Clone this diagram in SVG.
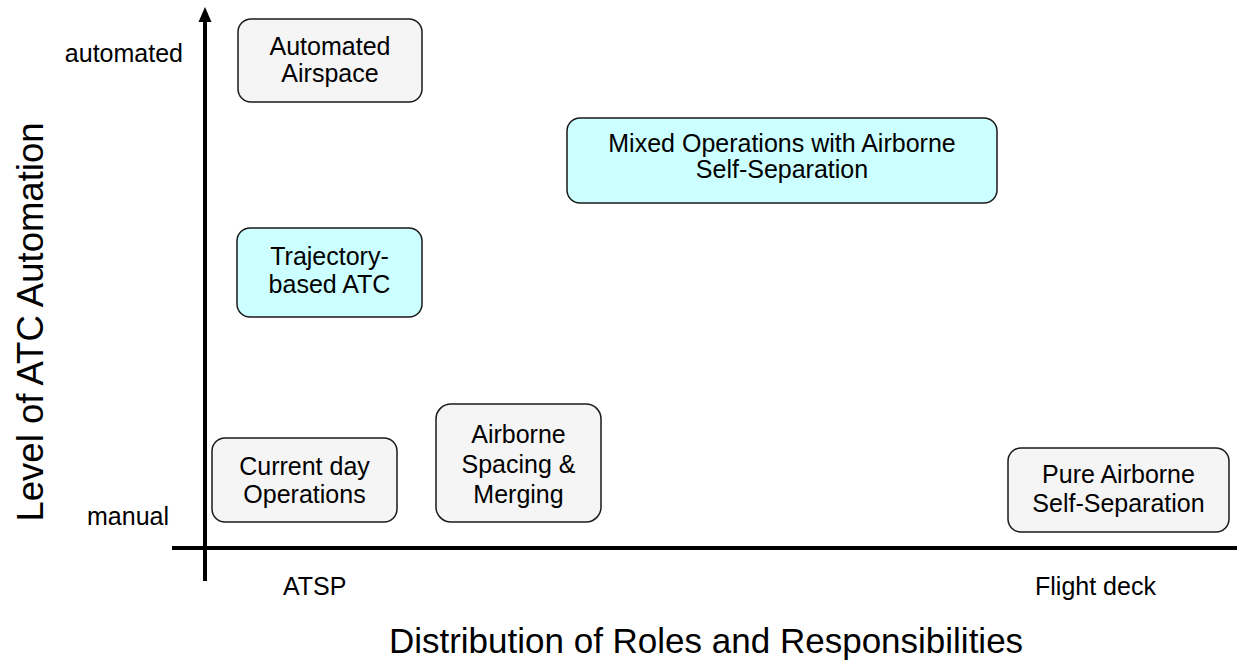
<svg xmlns="http://www.w3.org/2000/svg" width="1237" height="664" viewBox="0 0 1237 664">
<style>
text { font-family: "Liberation Sans", Arial, sans-serif; fill: #000; }
.lbl { font-size: 25px; text-anchor: middle; }
.ax { font-size: 25px; }
.title { font-size: 35px; }
.vtitle { font-size: 36.5px; }
.box { stroke: #1a1a1a; stroke-width: 1.5; }
.gray { fill: #f5f5f5; }
.cyan { fill: #ccffff; }
.axis { stroke: #000; stroke-width: 4; fill: none; }
</style>
<rect width="1237" height="664" fill="#fff"/>
<g id="axes">
  <line class="axis" x1="205" y1="581" x2="205" y2="20"/>
  <polygon points="205,7 198.5,22 211.5,22" fill="#000"/>
  <line class="axis" x1="172" y1="548" x2="1237" y2="548"/>
  <text class="ax" x="183" y="62" text-anchor="end">automated</text>
  <text class="ax" x="87" y="525">manual</text>
  <text class="ax" x="283" y="595">ATSP</text>
  <text class="ax" x="1035" y="595">Flight deck</text>
  <text class="title" x="706" y="653" text-anchor="middle">Distribution of Roles and Responsibilities</text>
  <text class="vtitle" transform="translate(43,322) rotate(-90)" text-anchor="middle">Level of ATC Automation</text>
</g>
<g id="connectors"></g>
<g id="automated-airspace">
  <rect class="box gray" x="238" y="19" width="184" height="83" rx="13"/>
  <text class="lbl" x="330" y="55">Automated</text>
  <text class="lbl" x="330" y="82">Airspace</text>
</g>
<g id="mixed-operations">
  <rect class="box cyan" x="567" y="118" width="430" height="85" rx="13"/>
  <text class="lbl" x="782" y="152">Mixed Operations with Airborne</text>
  <text class="lbl" x="782" y="178">Self-Separation</text>
</g>
<g id="trajectory-based">
  <rect class="box cyan" x="237" y="228" width="185" height="89" rx="13"/>
  <text class="lbl" x="329.5" y="265">Trajectory-</text>
  <text class="lbl" x="329.5" y="293">based ATC</text>
</g>
<g id="current-day">
  <rect class="box gray" x="212" y="438" width="185" height="84" rx="13"/>
  <text class="lbl" x="304.5" y="475">Current day</text>
  <text class="lbl" x="304.5" y="503">Operations</text>
</g>
<g id="airborne-spacing">
  <rect class="box gray" x="436" y="404" width="165" height="118" rx="15"/>
  <text class="lbl" x="518.5" y="443">Airborne</text>
  <text class="lbl" x="518.5" y="473">Spacing &amp;</text>
  <text class="lbl" x="518.5" y="503">Merging</text>
</g>
<g id="pure-airborne">
  <rect class="box gray" x="1008" y="448" width="221" height="84" rx="13"/>
  <text class="lbl" x="1118.5" y="483">Pure Airborne</text>
  <text class="lbl" x="1118.5" y="512">Self-Separation</text>
</g>
</svg>
